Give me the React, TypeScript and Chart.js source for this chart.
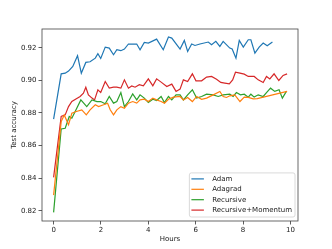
import React, { useEffect, useRef } from "react";
import { Chart, registerables } from "chart.js";

Chart.register(...registerables);

const seriesNames = ["Adam", "Adagrad", "Recursive", "Recursive+Momentum"];
const seriesColors = ["#1f77b4", "#ff7f0e", "#2ca02c", "#d62728"];

const xTicks = [0, 2, 4, 6, 8, 10];
const yTicks = [0.82, 0.84, 0.86, 0.88, 0.9, 0.92];

const adamHours = [0, 0.32, 0.49, 0.63, 0.81, 1.01, 1.17, 1.36, 1.54, 1.76, 1.87, 1.99, 2.18, 2.35, 2.53, 2.67, 2.84, 2.99, 3.16, 3.33, 3.51, 3.65, 3.83, 4.0, 4.35, 4.63, 4.85, 4.99, 5.34, 5.52, 5.66, 5.83, 5.97, 6.18, 6.53, 6.67, 6.85, 7.02, 7.16, 7.44, 7.54, 7.7, 7.84, 8.01, 8.22, 8.33, 8.5, 8.68, 8.85, 9.02, 9.24];
const adamAcc = [0.8762, 0.904, 0.9044, 0.9057, 0.9085, 0.9151, 0.9044, 0.911, 0.9114, 0.9136, 0.9163, 0.9134, 0.9204, 0.9198, 0.9157, 0.9188, 0.9182, 0.9192, 0.9223, 0.9222, 0.9223, 0.9188, 0.9233, 0.9229, 0.9253, 0.9188, 0.9266, 0.9259, 0.9192, 0.9245, 0.9177, 0.9223, 0.9214, 0.9223, 0.9235, 0.9218, 0.9239, 0.9208, 0.9239, 0.9198, 0.9192, 0.9136, 0.9245, 0.9204, 0.9249, 0.9249, 0.9167, 0.9204, 0.9229, 0.9212, 0.9235];

const adagradHours = [0, 0.32, 0.45, 0.63, 0.77, 0.96, 1.19, 1.38, 1.54, 1.76, 1.9, 2.11, 2.28, 2.39, 2.53, 2.67, 2.84, 2.99, 3.16, 3.34, 3.51, 3.65, 3.83, 4.0, 4.19, 4.35, 4.54, 4.68, 4.85, 5.06, 5.34, 5.48, 5.66, 5.86, 6.04, 6.25, 6.46, 6.74, 7.02, 7.16, 7.3, 7.44, 7.65, 7.87, 8.05, 8.22, 8.43, 8.6, 9.86];
const adagradAcc = [0.8296, 0.8747, 0.8788, 0.8727, 0.8798, 0.8809, 0.8819, 0.8788, 0.8819, 0.885, 0.8839, 0.885, 0.886, 0.8819, 0.8788, 0.8819, 0.8839, 0.8829, 0.886, 0.887, 0.886, 0.888, 0.8884, 0.887, 0.8891, 0.888, 0.887, 0.886, 0.8884, 0.8897, 0.8901, 0.888, 0.8895, 0.887, 0.8901, 0.8884, 0.8891, 0.8911, 0.8932, 0.8901, 0.8895, 0.8905, 0.8911, 0.887, 0.8897, 0.8895, 0.8886, 0.8888, 0.8932];

const recursiveHours = [0, 0.32, 0.49, 0.66, 0.77, 0.91, 1.15, 1.4, 1.62, 1.83, 1.99, 2.18, 2.35, 2.53, 2.67, 2.84, 2.99, 3.16, 3.34, 3.51, 3.65, 3.83, 4.0, 4.19, 4.35, 4.54, 4.68, 4.85, 4.99, 5.17, 5.34, 5.48, 5.66, 5.86, 6.04, 6.25, 6.46, 6.74, 6.95, 7.16, 7.44, 7.58, 7.72, 7.89, 8.05, 8.22, 8.33, 8.47, 8.64, 8.85, 8.99, 9.16, 9.34, 9.52, 9.66, 9.83];
const recursiveAcc = [0.819, 0.8702, 0.8706, 0.8778, 0.8768, 0.8809, 0.888, 0.8839, 0.888, 0.887, 0.887, 0.8856, 0.8901, 0.886, 0.887, 0.8925, 0.8839, 0.887, 0.8917, 0.888, 0.8911, 0.8891, 0.8864, 0.8884, 0.8876, 0.8901, 0.8864, 0.8901, 0.888, 0.8911, 0.8911, 0.888, 0.8911, 0.8942, 0.8891, 0.8901, 0.8915, 0.8911, 0.8901, 0.8911, 0.8915, 0.8901, 0.8925, 0.8911, 0.8915, 0.8897, 0.8915, 0.8897, 0.8911, 0.8901, 0.8925, 0.8952, 0.8932, 0.8942, 0.8891, 0.8932];

const momentumHours = [0, 0.32, 0.49, 0.63, 0.77, 0.96, 1.12, 1.26, 1.36, 1.47, 1.62, 1.73, 1.87, 1.99, 2.18, 2.35, 2.53, 2.67, 2.84, 2.99, 3.16, 3.3, 3.44, 3.62, 3.79, 4.0, 4.19, 4.35, 4.54, 4.78, 4.99, 5.17, 5.34, 5.48, 5.66, 5.86, 6.01, 6.25, 6.46, 6.67, 6.88, 7.06, 7.23, 7.42, 7.56, 7.68, 7.87, 8.05, 8.22, 8.47, 8.64, 8.85, 8.99, 9.13, 9.31, 9.51, 9.69, 9.86];
const momentumAcc = [0.8405, 0.8778, 0.8788, 0.8839, 0.887, 0.8887, 0.8901, 0.8921, 0.8958, 0.8911, 0.8891, 0.888, 0.8942, 0.8925, 0.8993, 0.8952, 0.8958, 0.8958, 0.8952, 0.9003, 0.8952, 0.8966, 0.8958, 0.8973, 0.8966, 0.9009, 0.8966, 0.9009, 0.8989, 0.8962, 0.8977, 0.8932, 0.8946, 0.9003, 0.8993, 0.904, 0.8997, 0.8997, 0.902, 0.9024, 0.9007, 0.8987, 0.8983, 0.8979, 0.9003, 0.905, 0.9044, 0.9038, 0.9024, 0.9024, 0.9003, 0.8987, 0.9024, 0.9009, 0.904, 0.8999, 0.903, 0.904];

const allHours = [adamHours, adagradHours, recursiveHours, momentumHours];
const allAcc = [adamAcc, adagradAcc, recursiveAcc, momentumAcc];

const FONT = '"DejaVu Sans", sans-serif';
const TEXT = "#1a1a1a";

const frameAndLegend = {
  id: "frameAndLegend",
  afterDatasetsDraw(chart: any) {
    const { ctx, chartArea } = chart;
    ctx.save();
    // axes frame
    ctx.strokeStyle = "#444";
    ctx.lineWidth = 0.8;
    ctx.strokeRect(chartArea.left, chartArea.top, chartArea.right - chartArea.left, chartArea.bottom - chartArea.top);

    // legend
    const ds = chart.data.datasets;
    ctx.font = `7px ${FONT}`;
    const textW = Math.max(...ds.map((d: any) => ctx.measureText(d.label).width));
    const lineLen = 12.5;
    const w = 2 + lineLen + 8.3 + textW + 3;
    const rowH = 10.4;
    const h = ds.length * rowH + 2.5;
    const right = chartArea.right - 3;
    const bottom = chartArea.bottom - 4;
    const left = right - w;
    const top = bottom - h;
    ctx.beginPath();
    if (ctx.roundRect) ctx.roundRect(left, top, w, h, 2);
    else ctx.rect(left, top, w, h);
    ctx.fillStyle = "rgba(255,255,255,0.8)";
    ctx.fill();
    ctx.strokeStyle = "#d0d0d0";
    ctx.lineWidth = 0.8;
    ctx.stroke();
    ds.forEach((d: any, i: number) => {
      const cy = top + 6 + i * rowH;
      ctx.beginPath();
      ctx.moveTo(left + 2, cy);
      ctx.lineTo(left + 2 + lineLen, cy);
      ctx.strokeStyle = d.borderColor;
      ctx.lineWidth = 1.2;
      ctx.stroke();
      ctx.fillStyle = TEXT;
      ctx.textBaseline = "middle";
      ctx.textAlign = "left";
      ctx.fillText(d.label, left + 2 + lineLen + 8.3, cy);
    });
    ctx.restore();
  },
};

export default function App() {
  const ref = useRef<HTMLCanvasElement>(null);
  useEffect(() => {
    document.body.style.margin = "0";
    const datasets = seriesNames.map((name, s) => ({
      label: name,
      data: allHours[s].map((h, i) => ({ x: h, y: allAcc[s][i] })),
      borderColor: seriesColors[s],
      backgroundColor: seriesColors[s],
      borderWidth: 1.2,
      pointRadius: 0,
      tension: 0,
      fill: false,
    }));
    const chart = new Chart(ref.current as HTMLCanvasElement, {
      type: "line",
      data: { datasets },
      options: {
        animation: false,
        responsive: false,
        maintainAspectRatio: false,
        layout: { padding: { left: 0, right: 34, top: 29, bottom: 0 } },
        plugins: { legend: { display: false }, tooltip: { enabled: false }, title: { display: false } },
        scales: {
          x: {
            type: "linear",
            min: -0.49,
            max: 10.32,
            afterBuildTicks: (scale: any) => {
              scale.ticks = xTicks.map((v) => ({ value: v }));
            },
            afterFit: (scale: any) => {
              scale.height = 28;
            },
            grid: { display: true, drawOnChartArea: false, drawTicks: true, tickLength: 3.5, color: "#333", lineWidth: 0.8 },
            border: { display: false },
            ticks: { color: TEXT, font: { family: FONT, size: 7 }, padding: 1.5, maxRotation: 0, callback: (v: any) => String(v) },
            title: { display: true, text: "Hours", color: TEXT, font: { family: FONT, size: 7 }, padding: { top: 0, bottom: 5.8 } },
          },
          y: {
            type: "linear",
            min: 0.8137,
            max: 0.9315,
            afterBuildTicks: (scale: any) => {
              scale.ticks = yTicks.map((v) => ({ value: v }));
            },
            afterFit: (scale: any) => {
              scale.width = 42;
            },
            grid: { display: true, drawOnChartArea: false, drawTicks: true, tickLength: 3.5, color: "#333", lineWidth: 0.8 },
            border: { display: false },
            ticks: { color: TEXT, font: { family: FONT, size: 7 }, padding: 2, callback: (v: any) => Number(v).toFixed(2) },
            title: { display: true, text: "Test accuracy", color: TEXT, font: { family: FONT, size: 7 }, padding: { top: 9.8, bottom: 0 } },
          },
        },
      },
      plugins: [frameAndLegend],
    });
    return () => chart.destroy();
  }, []);
  return (
    <div style={{ position: "fixed", left: 0, top: 0, width: 332, height: 249, background: "#fff" }}>
      <canvas ref={ref} width={332} height={249} style={{ width: 332, height: 249, display: "block" }} />
    </div>
  );
}
